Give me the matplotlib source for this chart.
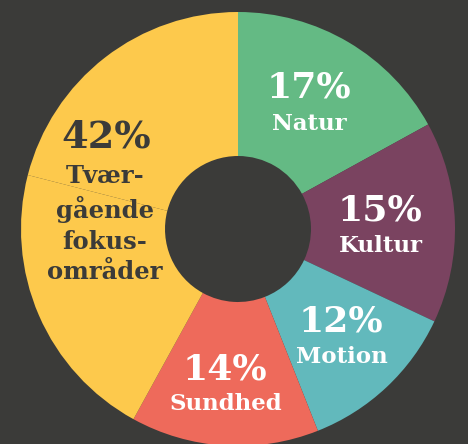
import matplotlib
matplotlib.use("Agg")
import matplotlib.pyplot as plt

# Data
categories = ["Natur", "Kultur", "Motion", "Sundhed", "Tværgående fokusområder"]
shares = [17, 15, 12, 14, 42]
# the yellow slice is drawn as two equal parts (a faint seam is visible)
tvaer_parts = [21, 21]
label_texts = ["Natur", "Kultur", "Motion", "Sundhed", "Tvær-\ngående\nfokus-\nområder"]

colors = ["#64ba84", "#7a4360", "#62b9bc", "#ee6a5b", "#fdc94c"]
bg = "#3b3b39"

W, H = 468, 444
fig = plt.figure(figsize=(W / 100, H / 100), dpi=100)
fig.patch.set_facecolor(bg)
ax = fig.add_axes([0, 0, 1, 1])
ax.set_facecolor(bg)

cx, cy = 238, H - 229
R, r_hole = 217, 73

values = shares[:4] + tvaer_parts
wcolors = colors[:4] + [colors[4]] * len(tvaer_parts)
ax.pie(values, colors=wcolors, startangle=90, counterclock=False,
       radius=R, center=(cx, cy),
       wedgeprops=dict(width=R - r_hole, linewidth=0, antialiased=True))

ax.set_xlim(0, W)
ax.set_ylim(0, H)
ax.set_aspect("equal")
ax.axis("off")

font = "DejaVu Serif"
white = "white"
dark = "#3b3b39"

# (pct_x, pct_y, lab_x, lab_y) in pixel coords from top
pos = [
    (309, 87, 309, 124),
    (380, 211, 381, 246),
    (341, 322, 342, 357),
    (225, 369, 226, 404),
]
for i in range(4):
    px, py, lx, ly = pos[i]
    ax.text(px, H - py, f"{shares[i]}%", ha="center", va="center",
            fontsize=26, fontweight="bold", family=font, color=white)
    ax.text(lx, H - ly, label_texts[i], ha="center", va="center",
            fontsize=16.5, fontweight="bold", family=font, color=white)

ax.text(106, H - 137, f"{shares[4]}%", ha="center", va="center",
        fontsize=27.5, fontweight="bold", family=font, color=dark)
ax.text(105, H - 224, label_texts[4], ha="center", va="center",
        fontsize=17.5, fontweight="bold", family=font, color=dark,
        linespacing=1.36)

fig.savefig("out.png", dpi=100, facecolor=bg)
